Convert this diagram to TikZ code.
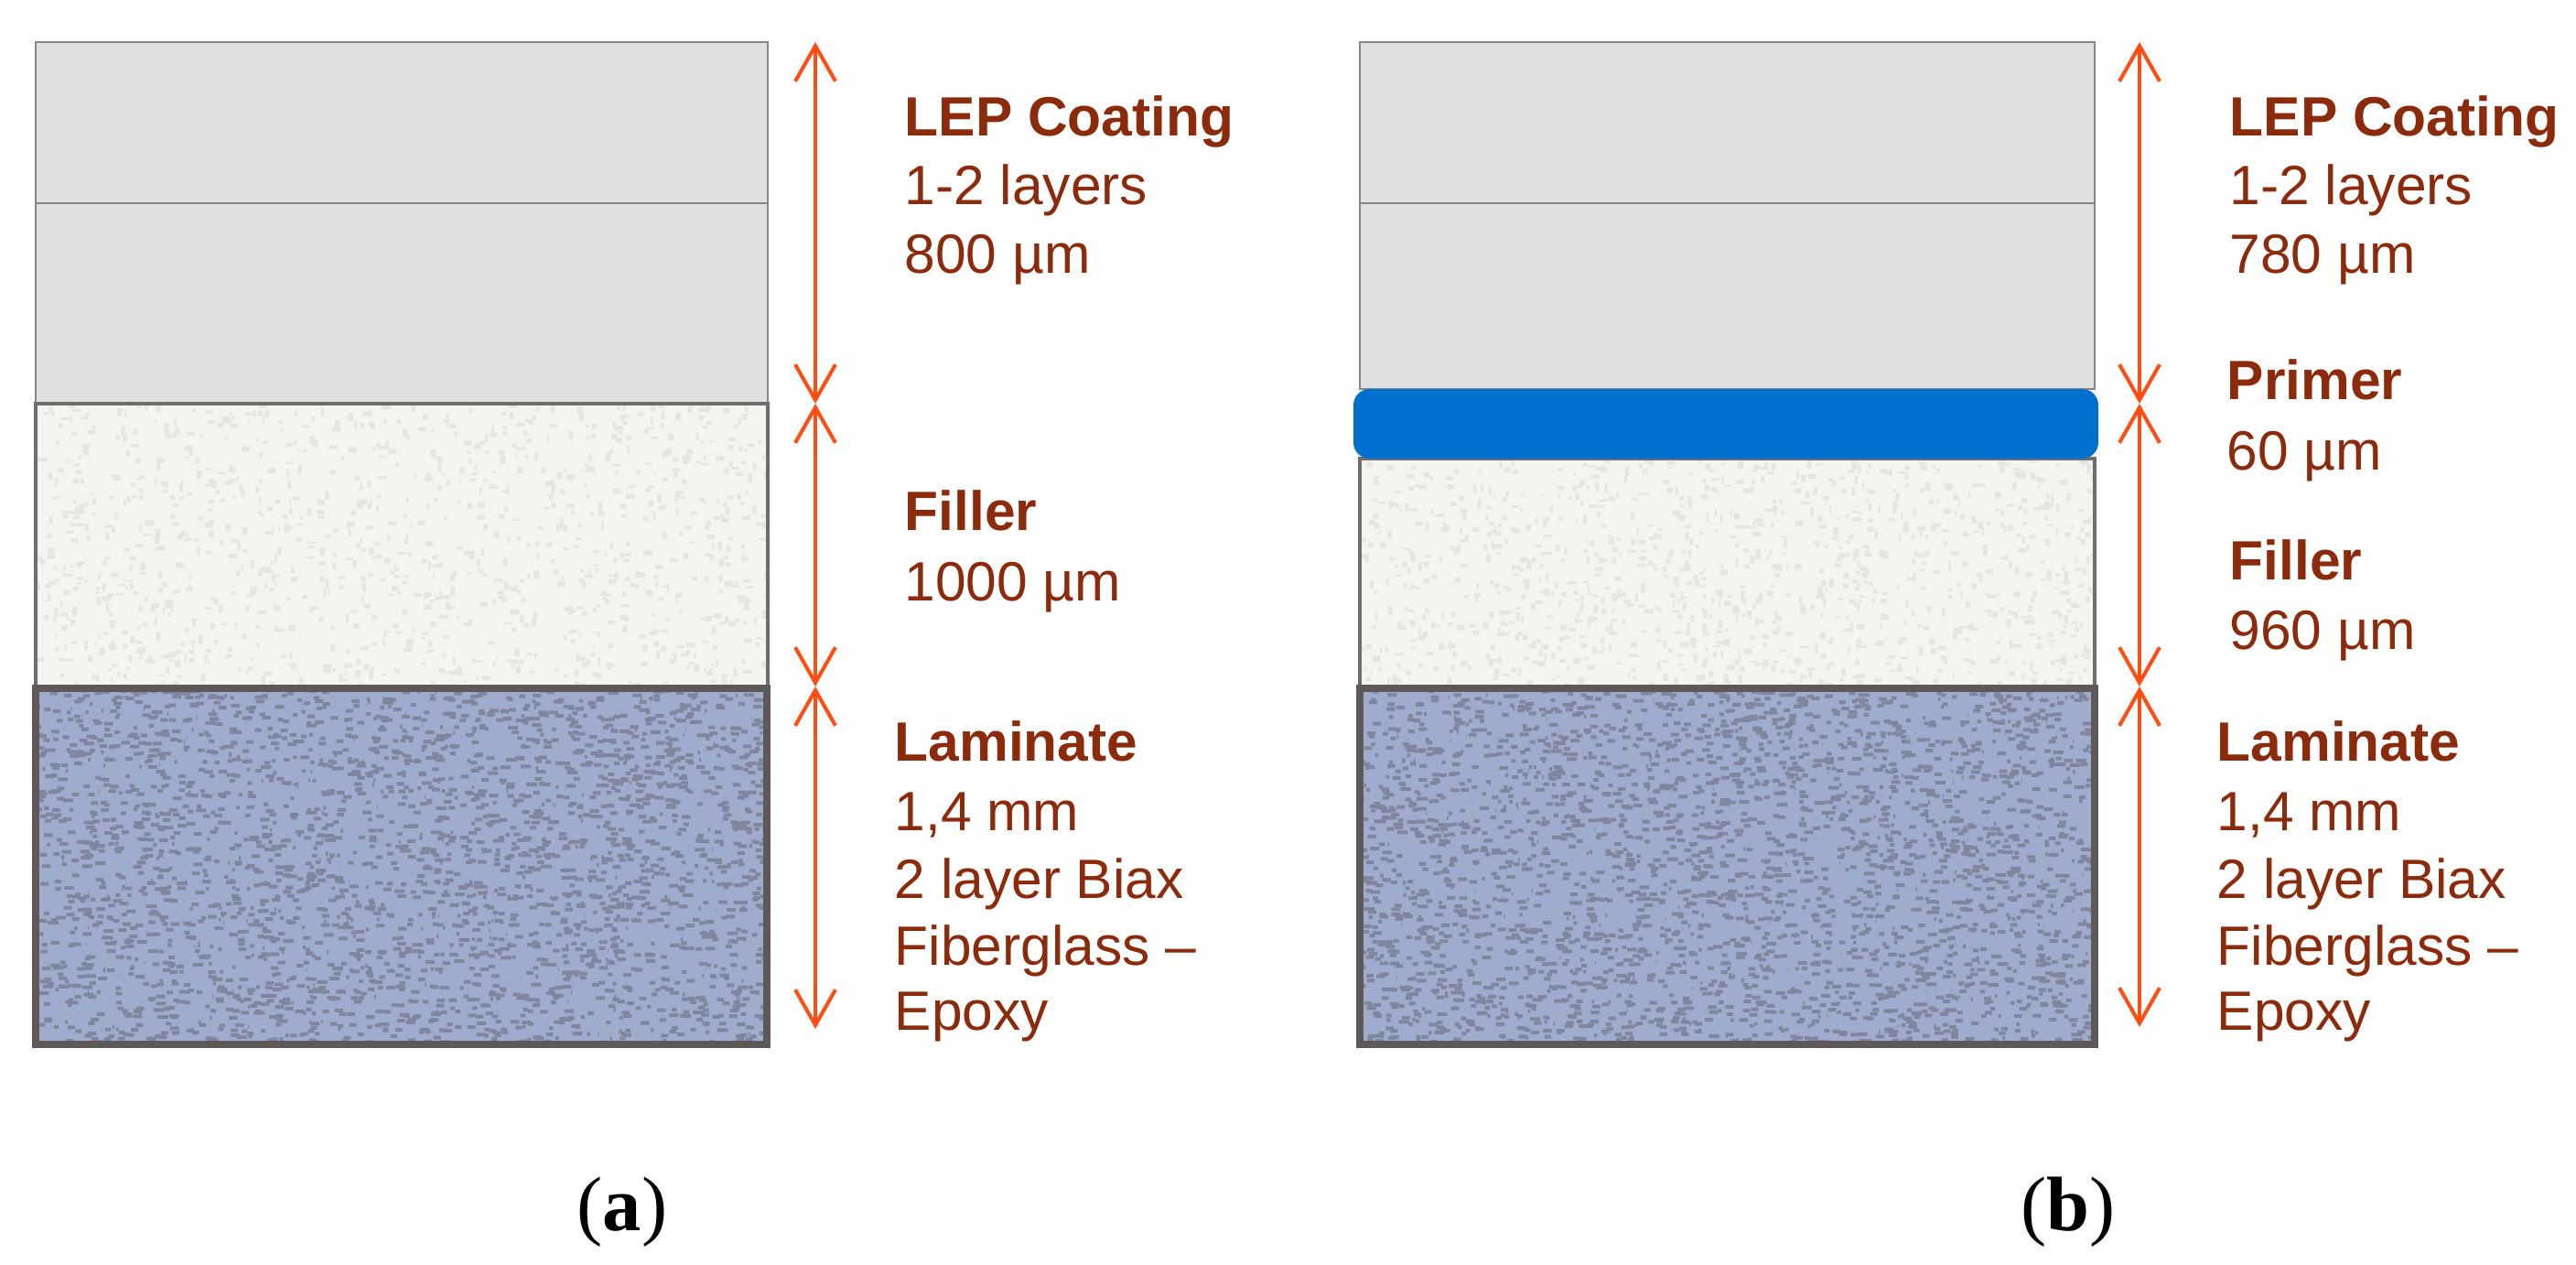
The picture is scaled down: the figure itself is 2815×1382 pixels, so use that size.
\documentclass[tikz,border=0pt]{standalone}
\usepackage{fontspec}
\setmainfont{Liberation Sans}
\newfontfamily\capfont{Liberation Serif}
\usetikzlibrary{arrows.meta}
\definecolor{txt}{RGB}{140,42,12}
\definecolor{arr}{RGB}{255,78,20}
\definecolor{lepfill}{RGB}{224,224,224}
\definecolor{lepline}{RGB}{135,135,135}
\definecolor{fillbase}{RGB}{244,244,241}
\definecolor{fillspeck}{RGB}{229,229,226}
\definecolor{fillline}{RGB}{110,110,110}
\definecolor{lambase}{RGB}{160,172,206}
\definecolor{lamdark}{RGB}{128,134,158}
\definecolor{lamline}{RGB}{94,88,89}
\definecolor{primerblue}{RGB}{0,112,204}
\newcommand\lamtexture[4]{%
  \begin{scope}
    \clip (#1,#2) rectangle (#3,#4);
    \fill[lambase] (#1,#2) rectangle (#3,#4);
    \foreach \k in {1,...,1000}{
      \pgfmathsetmacro\xa{#1+(#3-#1)*rnd}
      \pgfmathsetmacro\ya{#2+(#4-#2)*rnd}
      \pgfmathsetmacro\xb{#1+(#3-#1)*rnd}
      \pgfmathsetmacro\yb{#2+(#4-#2)*rnd}
      \pgfmathsetmacro\xc{#1+(#3-#1)*rnd}
      \pgfmathsetmacro\yc{#2+(#4-#2)*rnd}
      \pgfmathsetmacro\wa{3+9*rnd}
      \fill[lamdark] (\xa,\ya) rectangle ++(\wa,4)
        (\xb,\yb) rectangle ++(12-\wa,4) (\xc,\yc) rectangle ++(4+\wa/2,4);
    }
  \end{scope}}
\newcommand\filtexture[4]{%
  \begin{scope}
    \clip (#1,#2) rectangle (#3,#4);
    \fill[fillbase] (#1,#2) rectangle (#3,#4);
    \foreach \k in {1,...,550}{
      \pgfmathsetmacro\xa{#1+(#3-#1)*rnd}
      \pgfmathsetmacro\ya{#2+(#4-#2)*rnd}
      \pgfmathsetmacro\xb{#1+(#3-#1)*rnd}
      \pgfmathsetmacro\yb{#2+(#4-#2)*rnd}
      \pgfmathsetmacro\wa{2+4*rnd}
      \pgfmathsetmacro\ha{3+7*rnd}
      \fill[fillspeck] (\xa,\ya) rectangle ++(\wa,\ha) (\xb,\yb) rectangle ++(\ha,\wa);
    }
  \end{scope}}
\tikzset{
  lbl/.style={anchor=base west, inner sep=0pt, text=txt, font=\fontsize{17.2}{20}\selectfont},
  lblb/.style={lbl, font=\fontsize{17.2}{20}\selectfont\bfseries},
  dimarrow/.style={draw=arr, line width=1.15pt,
    {Straight Barb[length=11pt,width=12.5pt]}-{Straight Barb[length=11pt,width=12.5pt]}},
  lepbox/.style={draw=lepline, line width=0.6pt},
  filbox/.style={draw=fillline, line width=0.9pt},
  lambox/.style={draw=lamline, line width=2.3pt},
  capt/.style={anchor=base, inner sep=0pt, font=\capfont\fontsize{24}{28}\selectfont}
}
\begin{document}
\begin{tikzpicture}[x=0.01cm,y=-0.01cm]
\pgfmathsetseed{4242}
\useasboundingbox (0,0) rectangle (2815,1382);
\fill[white] (0,0) rectangle (2815,1382);

% ---------------- panel (a) ----------------
\fill[lepfill] (39,46) rectangle (839,441);
\draw[lepbox] (39,46) rectangle (839,441);
\draw[lepbox] (39,222) -- (839,222);
\filtexture{39}{441}{839}{750}
\draw[filbox] (39,441) rectangle (839,750);
\lamtexture{39}{752}{838}{1141}
\draw[lambox] (39,752) rectangle (838,1141);

\coordinate (aT) at (891,46);
\coordinate (aM1) at (891,441);
\coordinate (aM2) at (891,750);
\coordinate (aB) at (891,1124);
\draw[dimarrow] (aT) -- (aM1);
\draw[dimarrow] (aM1) -- (aM2);
\draw[dimarrow] (aM2) -- (aB);

\node[lblb] (aLep) at (988,149) {LEP Coating};
\node[lbl] (aLep2) at (988,224) {1-2 layers};
\node[lbl] (aLep3) at (988,298) {800 µm};
\node[lblb] (aFil) at (988,579) {Filler};
\node[lbl] (aFil2) at (988,656) {1000 µm};
\node[lblb] (aLam) at (977,831) {Laminate};
\node[lbl] (aLam2) at (977,907) {1,4 mm};
\node[lbl] (aLam3) at (977,981) {2 layer Biax};
\node[lbl] (aLam4) at (977,1054) {Fiberglass –};
\node[lbl] (aLam5) at (977,1125) {Epoxy};
\node[capt] (capa) at (680,1344) {(\textbf{a})};

% ---------------- panel (b) ----------------
\fill[lepfill] (1486,46) rectangle (2289,425);
\draw[lepbox] (1486,46) rectangle (2289,425);
\draw[lepbox] (1486,222) -- (2289,222);
\filtexture{1486}{501}{2289}{750}
\draw[filbox] (1486,501) rectangle (2289,750);
\fill[primerblue, rounded corners=5] (1479,425) rectangle (2293,501);
\lamtexture{1486}{752}{2289}{1141}
\draw[lambox] (1486,752) rectangle (2289,1141);

\coordinate (bT) at (2338,46);
\coordinate (bM1) at (2338,441);
\coordinate (bM2) at (2338,750);
\coordinate (bB) at (2338,1122);
\draw[dimarrow] (bT) -- (bM1);
\draw[dimarrow] (bM1) -- (bM2);
\draw[dimarrow] (bM2) -- (bB);

\node[lblb] (bLep) at (2436,149) {LEP Coating};
\node[lbl] (bLep2) at (2436,224) {1-2 layers};
\node[lbl] (bLep3) at (2436,298) {780 µm};
\node[lblb] (bPri) at (2433,436) {Primer};
\node[lbl] (bPri2) at (2433,513) {60 µm};
\node[lblb] (bFil) at (2436,633) {Filler};
\node[lbl] (bFil2) at (2436,709) {960 µm};
\node[lblb] (bLam) at (2422,831) {Laminate};
\node[lbl] (bLam2) at (2422,907) {1,4 mm};
\node[lbl] (bLam3) at (2422,981) {2 layer Biax};
\node[lbl] (bLam4) at (2422,1054) {Fiberglass –};
\node[lbl] (bLam5) at (2422,1125) {Epoxy};
\node[capt] (capb) at (2260,1344) {(\textbf{b})};
\end{tikzpicture}
\end{document}
